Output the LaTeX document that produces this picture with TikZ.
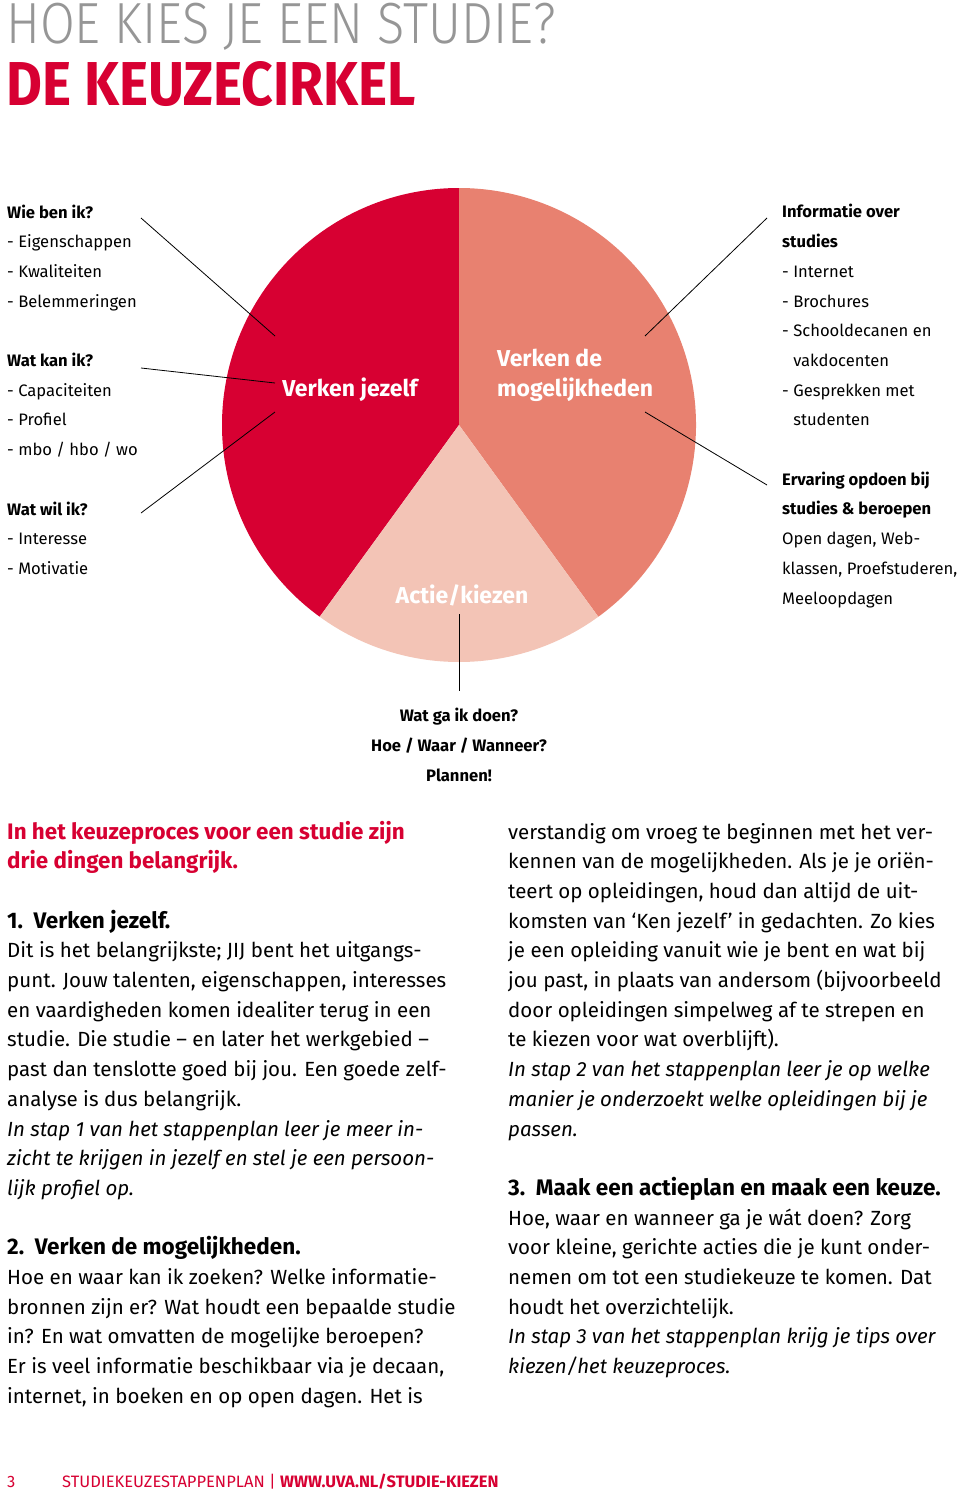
\documentclass[tikz,border=0pt]{standalone}
\usepackage{fontspec}
\setmainfont{Fira Sans}
\newfontfamily\titlelight{Fira Sans Light}[FakeStretch=0.87]
\newfontfamily\titlecond{Fira Sans}[FakeStretch=0.89]

\definecolor{keuzered}{RGB}{215,0,50}
\definecolor{keuzesalmon}{RGB}{232,129,112}
\definecolor{keuzepink}{RGB}{243,196,182}
\definecolor{titlegray}{RGB}{150,150,150}

\tikzset{
  pietext/.style={text=white, font=\fontsize{23}{29.7}\selectfont\bfseries, align=left, inner sep=0pt},
  sidetext/.style={font=\fontsize{16.6}{29.7}\selectfont, align=left, inner sep=0pt, anchor=base west},
  bodytext/.style={font=\fontsize{20.5}{29.7}\selectfont, align=left, inner sep=0pt, anchor=base west},
  pointer/.style={black, line width=0.8pt},
}

\begin{document}
\begin{tikzpicture}[x=1pt, y=-1pt]
  \fill[white] (0,0) rectangle (960,1502);
  \useasboundingbox (0,0) rectangle (960,1502);

  % Title
  \node[anchor=base west, inner sep=0pt, text=titlegray, font=\titlelight\fontsize{58}{58}\selectfont]
    (title) at (6,43) {HOE KIES JE EEN STUDIE?};
  \node[anchor=base west, inner sep=0pt, text=keuzered, font=\titlecond\bfseries\fontsize{62}{62}\selectfont]
    (subtitle) at (6,105) {DE KEUZECIRKEL};

  % Define the circle
  \coordinate (pc) at (459,425);
  \begin{scope}[shift={(pc)}, yscale=-1]
    \fill[keuzered] (0,0) -- (90:237) arc[start angle=90, end angle=234, radius=237] -- cycle;
    \fill[keuzesalmon] (0,0) -- (-54:237) arc[start angle=-54, end angle=90, radius=237] -- cycle;
    \fill[keuzepink] (0,0) -- (234:237) arc[start angle=234, end angle=306, radius=237] -- cycle;
  \end{scope}

  % Labels in the circle
  \node[pietext, anchor=base] (jezelf) at (350,396) {Verken jezelf};
  \node[pietext, anchor=base west] (mogelijk) at (497,396) {Verken de\\mogelijkheden};
  \node[pietext, anchor=base] (actie) at (462,603) {Actie/kiezen};

  % Texts round the circle (base = last line)
  \node[sidetext] (zelf) at (7,574.4) {%
    {\bfseries Wie ben ik?}\\
    - Eigenschappen\\
    - Kwaliteiten\\
    - Belemmeringen\\[29.7pt]
    {\bfseries Wat kan ik?}\\
    - Capaciteiten\\
    - Profiel\\
    - mbo / hbo / wo\\[29.7pt]
    {\bfseries Wat wil ik?}\\
    - Interesse\\
    - Motivatie};
  \node[sidetext] (info) at (782,604) {%
    {\bfseries Informatie over}\\
    {\bfseries studies}\\
    - Internet\\
    - Brochures\\
    - Schooldecanen en\\
    \phantom{- }vakdocenten\\
    - Gesprekken met\\
    \phantom{- }studenten\\[29.7pt]
    {\bfseries Ervaring opdoen bij}\\
    {\bfseries studies \& beroepen}\\
    Open dagen, Web-\\
    klassen, Proefstuderen,\\
    Meeloopdagen};
  \node[sidetext, anchor=base, align=center] (plan) at (459,781) {%
    {\bfseries Wat ga ik doen?}\\
    {\bfseries Hoe / Waar / Wanneer?}\\
    {\bfseries Plannen!}};

  % Pointers
  \coordinate (wie-a) at (141,218);  \coordinate (wie-b) at (275,336);
  \coordinate (kan-a) at (141,368);  \coordinate (kan-b) at (275,383);
  \coordinate (wil-a) at (141,513);  \coordinate (wil-b) at (275,412);
  \coordinate (inf-a) at (767,218);  \coordinate (inf-b) at (645,336);
  \coordinate (erv-a) at (767,485);  \coordinate (erv-b) at (645,412);
  \coordinate (act-a) at (459,614);  \coordinate (act-b) at (459,691);
  \draw[pointer] (wie-a) -- (wie-b);
  \draw[pointer] (kan-a) -- (kan-b);
  \draw[pointer] (wil-a) -- (wil-b);
  \draw[pointer] (inf-a) -- (inf-b);
  \draw[pointer] (erv-a) -- (erv-b);
  \draw[pointer] (act-a) -- (act-b);

  % Body text (base = last line)
  \node[bodytext] (left) at (7,1403.3) {%
    {\color{keuzered}\fontsize{22.4}{29.7}\selectfont\bfseries In het keuzeproces voor een studie zijn}\\
    {\color{keuzered}\fontsize{22.4}{29.7}\selectfont\bfseries drie dingen belangrijk.}\\[29.7pt]
    {\fontsize{22.5}{29.7}\selectfont\bfseries 1.\ \ Verken jezelf.}\\
    Dit is het belangrijkste; JIJ bent het uitgangs-\\
    punt. Jouw talenten, eigenschappen, interesses\\
    en vaardigheden komen idealiter terug in een\\
    studie. Die studie -- en later het werkgebied --\\
    past dan tenslotte goed bij jou. Een goede zelf-\\
    analyse is dus belangrijk.\\
    {\itshape In stap 1 van het stappenplan leer je meer in-}\\
    {\itshape zicht te krijgen in jezelf en stel je een persoon-}\\
    {\itshape lijk profiel op.}\\[29.7pt]
    {\fontsize{22.5}{29.7}\selectfont\bfseries 2.\ \ Verken de mogelijkheden.}\\
    Hoe en waar kan ik zoeken? Welke informatie-\\
    bronnen zijn er? Wat houdt een bepaalde studie\\
    in? En wat omvatten de mogelijke beroepen?\\
    Er is veel informatie beschikbaar via je decaan,\\
    internet, in boeken en op open dagen. Het is};
  \node[bodytext] (right) at (508,1373.6) {%
    verstandig om vroeg te beginnen met het ver-\\
    kennen van de mogelijkheden. Als je je oriën-\\
    teert op opleidingen, houd dan altijd de uit-\\
    komsten van ‘Ken jezelf’ in gedachten. Zo kies\\
    je een opleiding vanuit wie je bent en wat bij\\
    jou past, in plaats van andersom (bijvoorbeeld\\
    door opleidingen simpelweg af te strepen en\\
    te kiezen voor wat overblijft).\\
    {\itshape In stap 2 van het stappenplan leer je op welke}\\
    {\itshape manier je onderzoekt welke opleidingen bij je}\\
    {\itshape passen.}\\[29.7pt]
    {\fontsize{22.5}{29.7}\selectfont\bfseries 3.\ \ Maak een actieplan en maak een keuze.}\\
    Hoe, waar en wanneer ga je wát doen? Zorg\\
    voor kleine, gerichte acties die je kunt onder-\\
    nemen om tot een studiekeuze te komen. Dat\\
    houdt het overzichtelijk.\\
    {\itshape In stap 3 van het stappenplan krijg je tips over}\\
    {\itshape kiezen/het keuzeproces.}};

  % Footer
  \node[anchor=base west, inner sep=0pt, text=keuzered, font=\fontsize{16.5}{16.5}\selectfont]
    (pagenr) at (7,1487) {3};
  \node[anchor=base west, inner sep=0pt, text=keuzered, font=\fontsize{16.5}{16.5}\selectfont]
    (footer) at (62,1487) {STUDIEKEUZESTAPPENPLAN | \textbf{WWW.UVA.NL/STUDIE-KIEZEN}};
\end{tikzpicture}
\end{document}
